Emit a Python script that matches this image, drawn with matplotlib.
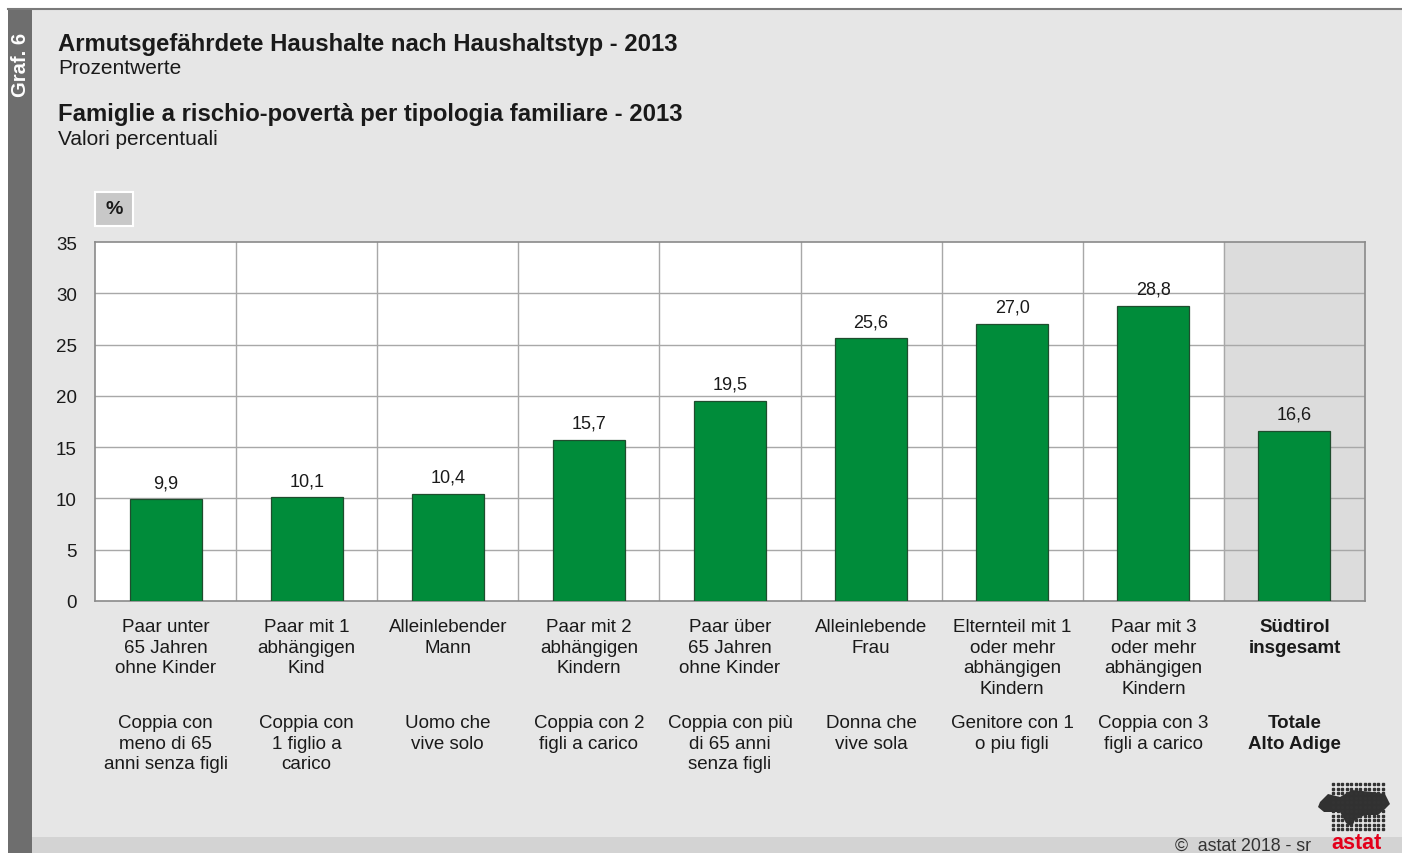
import numpy as np
import matplotlib.pyplot as plt
from matplotlib.patches import Rectangle, Polygon
from matplotlib.transforms import blended_transform_factory

plt.rcParams['font.family'] = ['Liberation Sans', 'DejaVu Sans']

W, H = 1402, 854

# data
labels_de = ["Paar unter\n65 Jahren\nohne Kinder", "Paar mit 1\nabhängigen\nKind",
             "Alleinlebender\nMann", "Paar mit 2\nabhängigen\nKindern",
             "Paar über\n65 Jahren\nohne Kinder", "Alleinlebende\nFrau",
             "Elternteil mit 1\noder mehr\nabhängigen\nKindern",
             "Paar mit 3\noder mehr\nabhängigen\nKindern", "Südtirol\ninsgesamt"]
labels_it = ["Coppia con\nmeno di 65\nanni senza figli", "Coppia con\n1 figlio a\ncarico",
             "Uomo che\nvive solo", "Coppia con 2\nfigli a carico",
             "Coppia con più\ndi 65 anni\nsenza figli", "Donna che\nvive sola",
             "Genitore con 1\no piu figli", "Coppia con 3\nfigli a carico",
             "Totale\nAlto Adige"]
values = [9.9, 10.1, 10.4, 15.7, 19.5, 25.6, 27.0, 28.8, 16.6]
yticks = [0, 5, 10, 15, 20, 25, 30, 35]

green = "#008c3a"
grid_col = "#a8a8a8"

fig = plt.figure(figsize=(W / 100, H / 100), dpi=100)
fig.patch.set_facecolor("white")

def fx(px):
    return px / W

def fy(py):
    return 1 - py / H

# page background, sidebar, footer
fig.patches.append(Rectangle((fx(8), 0), fx(W - 8), fy(10), transform=fig.transFigure,
                             facecolor="#e6e6e6", edgecolor="none", zorder=-10))
fig.add_artist(plt.Line2D([fx(8), 1], [fy(10), fy(10)], color="#7a7a7a", lw=1.5,
                          transform=fig.transFigure))
fig.patches.append(Rectangle((fx(8), 0), fx(24), fy(10), transform=fig.transFigure,
                             facecolor="#6e6e6e", edgecolor="none", zorder=-9))
fig.patches.append(Rectangle((fx(32), 0), fx(W - 32), fy(838), transform=fig.transFigure,
                             facecolor="#d3d3d3", edgecolor="none", zorder=-9))
fig.text(fx(20), fy(65), "Graf. 6", rotation=90, color="white", fontsize=14.5,
         fontweight="bold", ha="center", va="center")

# titles
fig.text(fx(58), fy(51), "Armutsgefährdete Haushalte nach Haushaltstyp - 2013",
         fontsize=17.2, fontweight="bold", color="#1a1a1a", va="baseline")
fig.text(fx(58), fy(74), "Prozentwerte", fontsize=15, color="#1a1a1a", va="baseline")
fig.text(fx(58), fy(121), "Famiglie a rischio-povertà per tipologia familiare - 2013",
         fontsize=17.2, fontweight="bold", color="#1a1a1a", va="baseline")
fig.text(fx(58), fy(145), "Valori percentuali", fontsize=15, color="#1a1a1a", va="baseline")

# % box
fig.patches.append(Rectangle((fx(95), fy(227)), fx(38), fy(193) - fy(227),
                             transform=fig.transFigure, facecolor="#c8c8c8",
                             edgecolor="white", lw=1.5))
fig.text(fx(114), fy(210), "%", fontsize=14, fontweight="bold", color="#1a1a1a",
         ha="center", va="center")

# main axes
ax = fig.add_axes([fx(95), fy(602), fx(1365 - 95), fy(243) - fy(602)])
ax.set_facecolor("white")
x = np.arange(len(values))
ax.axvspan(7.5, 8.5, color="#dcdcdc", zorder=0)
ax.bar(x, values, width=0.51, color=green, edgecolor="#1f4d2e", linewidth=0.9, zorder=3)
for xi, v in zip(x, values):
    ax.annotate(f"{v:.1f}".replace(".", ","), (xi, v), xytext=(0, 6),
                textcoords="offset points", ha="center", va="bottom",
                fontsize=13, color="#1a1a1a", zorder=4)

for xv in np.arange(0.5, 8, 1):
    ax.axvline(xv, color=grid_col, lw=1, zorder=1)
for yv in yticks[1:-1]:
    ax.axhline(yv, color=grid_col, lw=1, zorder=1)

ax.set_xlim(-0.5, 8.5)
ax.set_ylim(0, 35)
ax.set_yticks(yticks)
ax.set_xticks([])
ax.tick_params(axis="y", length=0, pad=13, labelsize=13.5, labelcolor="#1a1a1a")
for s in ax.spines.values():
    s.set_color("#8a8a8a")
    s.set_linewidth(1.2)

# category labels under the axes
tr = blended_transform_factory(ax.transData, fig.transFigure)
for i, (de, it) in enumerate(zip(labels_de, labels_it)):
    w = "bold" if i == len(values) - 1 else "normal"
    ax.text(i, fy(619), de, transform=tr, ha="center", va="top", fontsize=13.5,
            linespacing=1.28, fontweight=w, color="#1a1a1a", clip_on=False)
    ax.text(i, fy(715), it, transform=tr, ha="center", va="top", fontsize=13.5,
            linespacing=1.28, fontweight=w, color="#1a1a1a", clip_on=False)

# footer
fig.text(fx(1175), fy(846), "©  astat 2018 - sr", fontsize=12.8, color="#333333", va="center")
fig.text(fx(1357), fy(849), "astat", fontsize=15.5, fontweight="bold", color="#e3001b",
         ha="center", va="baseline")

# rough logo: dot grid with dark blob
gx, gy = np.meshgrid(np.arange(1333, 1386, 4.5), np.arange(785, 831, 4.5))
fig.add_artist(plt.Line2D(fx(gx.ravel()), fy(gy.ravel()), ls="none", marker="s",
                          ms=1.5, color="#333333", transform=fig.transFigure))
blob = [(1320, 803), (1328, 795), (1340, 798), (1352, 791), (1372, 793), (1385, 795),
        (1390, 805), (1385, 810), (1378, 816), (1365, 816), (1355, 821), (1352, 828),
        (1346, 824), (1340, 813), (1324, 813), (1318, 808)]
fig.patches.append(Polygon([(fx(a), fy(b)) for a, b in blob], closed=True,
                           transform=fig.transFigure, facecolor="#111111",
                           edgecolor="none", alpha=0.85))

fig.savefig("out.png", dpi=100)
